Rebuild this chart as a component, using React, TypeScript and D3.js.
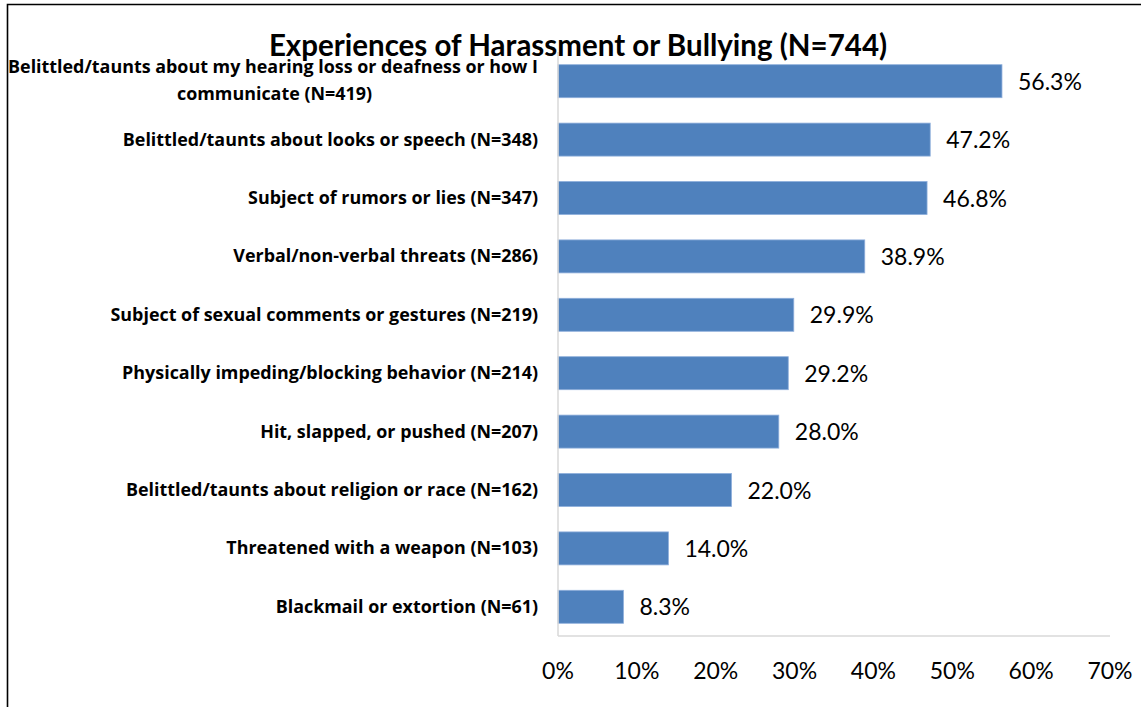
import { useEffect, useRef } from "react";
import * as d3 from "d3";

// chart data
const categories = [
  "Belittled/taunts about my hearing loss or deafness or how I|communicate (N=419)",
  "Belittled/taunts about looks or speech (N=348)",
  "Subject of rumors or lies (N=347)",
  "Verbal/non-verbal threats (N=286)",
  "Subject of sexual comments or gestures (N=219)",
  "Physically impeding/blocking behavior (N=214)",
  "Hit, slapped, or pushed (N=207)",
  "Belittled/taunts about religion or race (N=162)",
  "Threatened with a weapon (N=103)",
  "Blackmail or extortion (N=61)",
];
const percents = [56.3, 47.2, 46.8, 38.9, 29.9, 29.2, 28.0, 22.0, 14.0, 8.3];
const xTicks = [0, 10, 20, 30, 40, 50, 60, 70];
const title = "Experiences of Harassment or Bullying (N=744)";

const W = 1141;
const H = 707;
const FONT = "Lato, 'Open Sans', sans-serif";
const LABEL_FONT = "'Open Sans', Lato, sans-serif";

export default function App() {
  const svgRef = useRef<SVGSVGElement>(null);

  useEffect(() => {
    if (!svgRef.current) return;
    const svg = d3.select(svgRef.current);
    svg.selectAll("*").remove();

    // plot area
    const left = 558, right = 1110, top = 52, bottom = 636;

    const x = d3.scaleLinear().domain([0, 70]).range([left, right]);
    const y = d3.scaleBand<number>()
      .domain(d3.range(categories.length))
      .range([top, bottom])
      .paddingInner(0.435)
      .paddingOuter(0.2175);

    // frame (chart area border, clipped on right/bottom)
    svg.append("path")
      .attr("d", `M7.5,${H} V4.5 H${W}`)
      .attr("fill", "none")
      .attr("stroke", "#000")
      .attr("stroke-width", 1.6);

    // bars
    svg.append("g")
      .selectAll("rect")
      .data(percents)
      .enter()
      .append("rect")
      .attr("x", x(0))
      .attr("y", (_, i) => y(i)!)
      .attr("width", d => x(d) - x(0))
      .attr("height", y.bandwidth())
      .attr("fill", "#4f81bd")
      .attr("stroke", "#8eaedb")
      .attr("stroke-width", 0.8);

    // axes lines
    svg.append("line")
      .attr("x1", left).attr("x2", left)
      .attr("y1", top).attr("y2", bottom)
      .attr("stroke", "#d9d9d9").attr("stroke-width", 1.5);
    svg.append("line")
      .attr("x1", left).attr("x2", right)
      .attr("y1", bottom).attr("y2", bottom)
      .attr("stroke", "#d9d9d9").attr("stroke-width", 1.5);

    // value labels
    svg.append("g")
      .selectAll("text")
      .data(percents)
      .enter()
      .append("text")
      .attr("x", d => x(d) + 16)
      .attr("y", (_, i) => y(i)! + y.bandwidth() / 2 + 8.5)
      .attr("font-family", FONT)
      .attr("font-size", 23)
      .attr("fill", "#000")
      .text(d => d.toFixed(1) + "%");

    // x tick labels
    svg.append("g")
      .selectAll("text")
      .data(xTicks)
      .enter()
      .append("text")
      .attr("x", d => x(d))
      .attr("y", 679)
      .attr("text-anchor", "middle")
      .attr("font-family", FONT)
      .attr("font-size", 23)
      .attr("fill", "#000")
      .text(d => d + "%");

    // category labels
    const labelX = 538;
    const cat = svg.append("g")
      .selectAll("text")
      .data(categories)
      .enter()
      .append("text")
      .attr("font-family", LABEL_FONT)
      .attr("font-weight", "bold")
      .attr("font-size", 17.9)
      .attr("fill", "#000");
    cat.each(function (d, i) {
      const t = d3.select(this);
      const lines = d.split("|");
      const cy = y(i)! + y.bandwidth() / 2;
      if (lines.length === 1) {
        t.attr("x", labelX).attr("y", cy + 6).attr("text-anchor", "end").text(d);
      } else {
        t.append("tspan").attr("x", labelX).attr("y", cy - 8).attr("text-anchor", "end").text(lines[0]);
        t.append("tspan").attr("x", labelX - 166).attr("y", cy + 18.5).attr("text-anchor", "end").text(lines[1]);
      }
    });

    // title (drawn last so it sits above the first label)
    svg.append("text")
      .attr("x", 578)
      .attr("y", 56)
      .attr("text-anchor", "middle")
      .attr("font-family", FONT)
      .attr("font-weight", "bold")
      .attr("font-size", 29.5)
      .attr("fill", "#000")
      .text(title);
  }, []);

  return (
    <div style={{ position: "absolute", left: 0, top: 0, background: "#fff" }}>
      <svg ref={svgRef} width={W} height={H}></svg>
    </div>
  );
}
